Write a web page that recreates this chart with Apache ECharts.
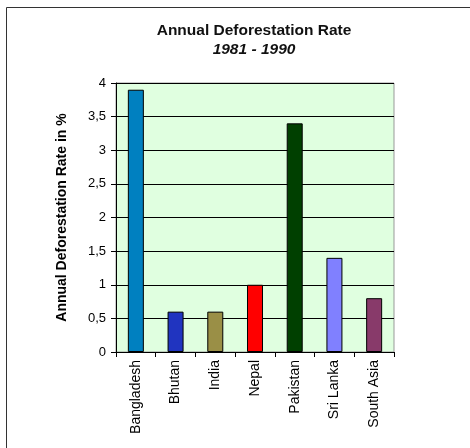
<!DOCTYPE html>
<html>
<head>
<meta charset="utf-8">
<script src="https://cdn.jsdelivr.net/npm/echarts@6/dist/echarts.min.js"></script>
<style>
  html, body { margin: 0; padding: 0; background: #fff; }
  #chart { width: 470px; height: 448px; }
</style>
</head>
<body>
<div id="chart"></div>
<script>
// Annual deforestation rate by country, 1981-1990 (% per year)
const categories = ['Bangladesh', 'Bhutan', 'India', 'Nepal', 'Pakistan', 'Sri Lanka', 'South Asia'];
const rates = [3.9, 0.6, 0.6, 1.0, 3.4, 1.4, 0.8];
const barColors = ['#0080c0', '#2034c0', '#9a8f46', '#ff0000', '#004000', '#8080ff', '#883a6a'];
const yTicks = [0, 0.5, 1, 1.5, 2, 2.5, 3, 3.5, 4];

const chart = echarts.init(document.getElementById('chart'), null, { renderer: 'canvas' });

const font = 'Arial, "Liberation Sans", sans-serif';

chart.setOption({
  animation: false,
  backgroundColor: '#ffffff',
  graphic: [
    {
      type: 'rect',
      shape: { x: 6.5, y: 7.5, width: 600, height: 600 },
      style: { fill: 'none', stroke: '#333', lineWidth: 1 },
      silent: true,
      z: -10
    }
  ],
  title: {
    text: 'Annual Deforestation Rate',
    subtext: '1981 - 1990',
    left: 249,
    textAlign: 'center',
    top: 18,
    itemGap: 3,
    textStyle: { fontFamily: font, fontSize: 15.5, fontWeight: 'bold', color: '#111' },
    subtextStyle: { fontFamily: font, fontSize: 15.5, fontWeight: 'bold', fontStyle: 'italic', color: '#111' }
  },
  grid: {
    left: 116,
    top: 83,
    width: 278,
    height: 269,
    show: true,
    backgroundColor: '#e0ffe0',
    borderColor: '#999',
    borderWidth: 1
  },
  xAxis: {
    type: 'category',
    data: categories,
    axisLine: { show: true, lineStyle: { color: '#000', width: 1 } },
    axisTick: { show: true, alignWithLabel: false, length: 5, lineStyle: { color: '#000' } },
    axisLabel: {
      rotate: 90,
      fontFamily: font,
      fontSize: 14,
      color: '#000',
      margin: 8
    }
  },
  yAxis: {
    type: 'value',
    min: 0,
    max: 4,
    interval: 0.5,
    name: 'Annual Deforestation Rate in %',
    nameLocation: 'middle',
    nameGap: 47,
    nameRotate: 90,
    nameTextStyle: { fontFamily: font, fontSize: 14, fontWeight: 'bold', color: '#000' },
    axisLine: { show: true, lineStyle: { color: '#000', width: 1 } },
    axisTick: { show: true, inside: false, length: 5, lineStyle: { color: '#000' } },
    axisLabel: {
      fontFamily: font,
      fontSize: 13,
      color: '#000',
      margin: 10,
      formatter: function (v) {
        return yTicks.indexOf(v) >= 0 ? String(v).replace('.', ',') : '';
      }
    },
    splitLine: { show: true, lineStyle: { color: '#000', width: 1 } }
  },
  series: [
    {
      type: 'bar',
      data: rates.map((v, i) => ({
        value: v,
        itemStyle: { color: barColors[i] }
      })),
      barWidth: 16,
      itemStyle: { borderColor: '#000', borderWidth: 1 }
    }
  ]
});
</script>
</body>
</html>
